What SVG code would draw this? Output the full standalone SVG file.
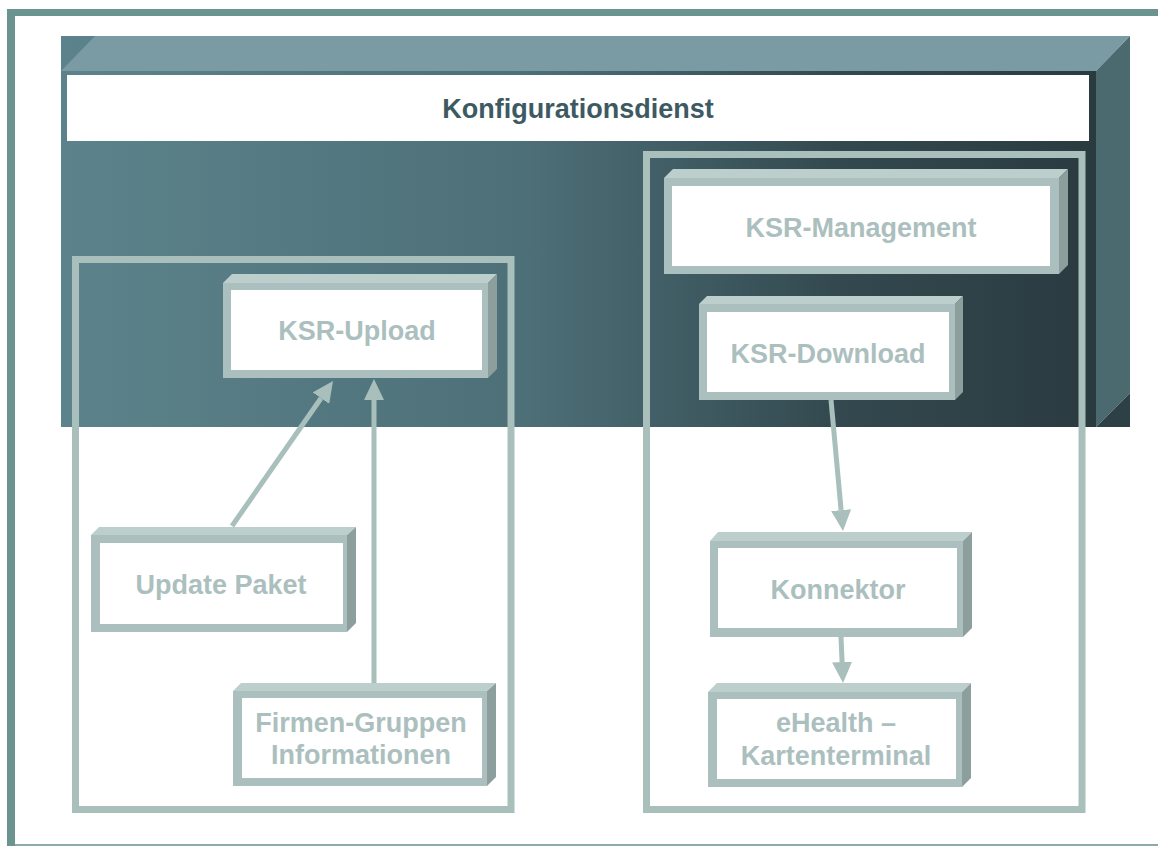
<svg xmlns="http://www.w3.org/2000/svg" width="1158" height="846" viewBox="0 0 1158 846">
<style>
.lbl{font-family:"Liberation Sans",Arial,sans-serif;font-weight:bold;font-size:27px;fill:#abc0be;text-anchor:middle}
.title{font-family:"Liberation Sans",Arial,sans-serif;font-weight:bold;font-size:27px;fill:#3d5a62;text-anchor:middle}
.front{fill:#abc0be}
.inner{fill:#ffffff}
.top{fill:#bdcfcd}
.side{fill:#8d9f9d}
.cont{fill:none;stroke:#a8bfbc;stroke-width:7}
.conn{stroke:#a8bfbc;stroke-width:5;fill:none}
</style>
<defs>
<linearGradient id="face" x1="0" y1="0" x2="1" y2="0">
<stop offset="0" stop-color="#5c838b"/>
<stop offset="0.45" stop-color="#4d6f78"/>
<stop offset="0.75" stop-color="#33494f"/>
<stop offset="1" stop-color="#2a3b40"/>
</linearGradient>
<marker id="ah" markerUnits="userSpaceOnUse" viewBox="0 0 21 20" markerWidth="21" markerHeight="20" refX="0" refY="10" orient="auto">
<path d="M0,0 L21,10 L0,20 z" fill="#a8bfbc"/>
</marker>
</defs>
<rect width="1158" height="846" fill="#ffffff"/>
<g id="frame">
<rect x="7" y="9" width="1151" height="7" fill="#6b9390"/>
<rect x="7" y="9" width="8" height="837" fill="#6b9390"/>
<rect x="15" y="844" width="1143" height="2" fill="#8faaa8"/>
</g>
<g id="konfigurationsdienst">
<rect x="61" y="36" width="1035" height="391" fill="url(#face)"/>
<polygon points="61,71 95,36 1130,36 1096,71" fill="#7a9ba3"/>
<polygon points="1096,71 1130,36 1130,393 1096,427" fill="#4a6a70"/>
<polygon points="1096,427 1130,393 1130,427" fill="#2d4045"/>
<rect x="67" y="75" width="1022" height="66" fill="#ffffff"/>
<text class="title" x="578" y="118">Konfigurationsdienst</text>
</g>
<g id="container-left"><rect class="cont" x="75.5" y="259.5" width="435.5" height="550"/></g>
<g id="container-right"><rect class="cont" x="646.5" y="154.5" width="435.5" height="655"/></g>
<g id="connectors">
<line class="conn" x1="232" y1="526" x2="321" y2="398.2" marker-end="url(#ah)"/>
<line class="conn" x1="374" y1="684" x2="374" y2="400" marker-end="url(#ah)"/>
<line class="conn" x1="831" y1="400" x2="841.1" y2="510.1" marker-end="url(#ah)"/>
<line class="conn" x1="841" y1="637" x2="842.1" y2="662" marker-end="url(#ah)"/>
</g>
<g id="ksr-upload">
<polygon class="top" points="223,283 232,274 497,274 488,283"/>
<polygon class="side" points="488,283 497,274 497,369 488,378"/>
<rect class="front" x="223" y="283" width="265" height="95"/>
<rect class="inner" x="231" y="290" width="251" height="80"/>
<text class="lbl" x="357" y="340">KSR-Upload</text>
</g>
<g id="ksr-management">
<polygon class="top" points="664,178 673,169 1068,169 1059,178"/>
<polygon class="side" points="1059,178 1068,169 1068,265 1059,274"/>
<rect class="front" x="664" y="178" width="395" height="96"/>
<rect class="inner" x="672" y="186" width="378" height="80"/>
<text class="lbl" x="861" y="237">KSR-Management</text>
</g>
<g id="ksr-download">
<polygon class="top" points="699,304 707,296 963,296 955,304"/>
<polygon class="side" points="955,304 963,296 963,392 955,400"/>
<rect class="front" x="699" y="304" width="256" height="96"/>
<rect class="inner" x="707" y="312" width="242" height="80"/>
<text class="lbl" x="828" y="363">KSR-Download</text>
</g>
<g id="update-paket">
<polygon class="top" points="91,535 99,527 356,527 347,535"/>
<polygon class="side" points="347,535 356,527 356,623 347,632"/>
<rect class="front" x="91" y="535" width="256" height="97"/>
<rect class="inner" x="100" y="543" width="243" height="81"/>
<text class="lbl" x="221" y="594">Update Paket</text>
</g>
<g id="firmen-gruppen">
<polygon class="top" points="233,691 241,683 496,683 487,691"/>
<polygon class="side" points="487,691 496,683 496,777 487,786"/>
<rect class="front" x="233" y="691" width="254" height="95"/>
<rect class="inner" x="242" y="698" width="240" height="80"/>
<text class="lbl" x="361" y="732">Firmen-Gruppen</text>
<text class="lbl" x="361" y="764">Informationen</text>
</g>
<g id="konnektor">
<polygon class="top" points="710,541 718,532 972,532 963,541"/>
<polygon class="side" points="963,541 972,532 972,628 963,637"/>
<rect class="front" x="710" y="541" width="253" height="96"/>
<rect class="inner" x="718" y="548" width="239" height="80"/>
<text class="lbl" x="838" y="599">Konnektor</text>
</g>
<g id="ehealth">
<polygon class="top" points="708,692 717,683 971,683 962,692"/>
<polygon class="side" points="962,692 971,683 971,778 962,787"/>
<rect class="front" x="708" y="692" width="254" height="95"/>
<rect class="inner" x="717" y="699" width="239" height="80"/>
<text class="lbl" x="836" y="732">eHealth –</text>
<text class="lbl" x="836" y="765">Kartenterminal</text>
</g>
</svg>
